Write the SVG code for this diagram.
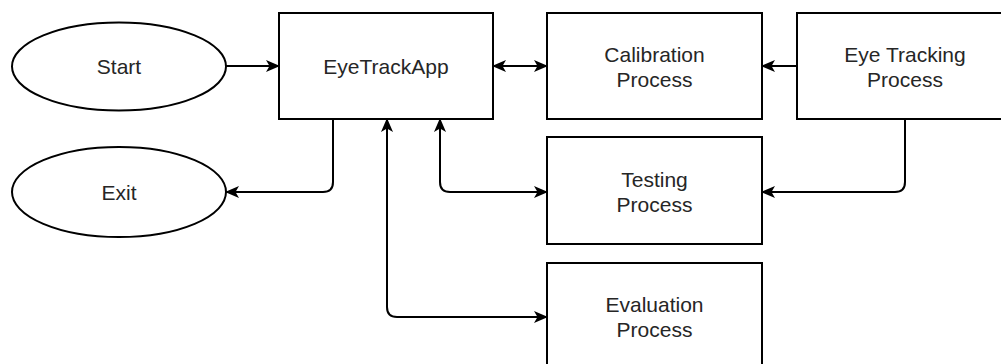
<svg xmlns="http://www.w3.org/2000/svg" width="1001" height="364" viewBox="0 0 1001 364">
<defs>
<style>
.box{fill:#fff;stroke:#000;stroke-width:2}
.lbl{font-family:"Liberation Sans",Arial,sans-serif;font-size:21px;fill:#262626;text-anchor:middle}
.edge{fill:none;stroke:#000;stroke-width:2}
</style>
<marker id="arr" viewBox="0 0 14 12" refX="13" refY="6" markerWidth="14" markerHeight="12" markerUnits="userSpaceOnUse" orient="auto-start-reverse">
<path d="M0,0 L14,6 L0,12 L3.5,6 Z" fill="#000"/>
</marker>
</defs>
<rect width="1001" height="364" fill="#fff"/>
<g id="start"><ellipse class="box" cx="119" cy="66.5" rx="107" ry="44"/><text class="lbl" x="119" y="74">Start</text></g>
<g id="exit"><ellipse class="box" cx="119" cy="192" rx="107" ry="45"/><text class="lbl" x="119" y="200">Exit</text></g>
<g id="eyetrackapp"><rect class="box" x="279" y="13" width="214" height="106"/><text class="lbl" x="386" y="74">EyeTrackApp</text></g>
<g id="calibration"><rect class="box" x="547" y="13" width="215" height="106"/><text class="lbl" x="654.5" y="62">Calibration</text><text class="lbl" x="654.5" y="87">Process</text></g>
<g id="eyetracking"><rect class="box" x="797" y="13" width="216" height="106"/><text class="lbl" x="905" y="62">Eye Tracking</text><text class="lbl" x="905" y="87">Process</text></g>
<g id="testing"><rect class="box" x="547" y="137" width="215" height="107"/><text class="lbl" x="654.5" y="187">Testing</text><text class="lbl" x="654.5" y="212">Process</text></g>
<g id="evaluation"><rect class="box" x="547" y="263" width="215" height="107"/><text class="lbl" x="654.5" y="312">Evaluation</text><text class="lbl" x="654.5" y="337">Process</text></g>
<g id="connectors">
<path class="edge" d="M226,66 H279" marker-end="url(#arr)"/>
<path class="edge" d="M493,66 H547" marker-start="url(#arr)" marker-end="url(#arr)"/>
<path class="edge" d="M797,66 H762" marker-end="url(#arr)"/>
<path class="edge" d="M333,119 V182 Q333,192 323,192 H226" marker-end="url(#arr)"/>
<path class="edge" d="M440,119 V182 Q440,192 450,192 H547" marker-start="url(#arr)" marker-end="url(#arr)"/>
<path class="edge" d="M387,119 V307 Q387,317 397,317 H547" marker-start="url(#arr)" marker-end="url(#arr)"/>
<path class="edge" d="M905,119 V182 Q905,192 895,192 H762" marker-end="url(#arr)"/>
</g>
</svg>
